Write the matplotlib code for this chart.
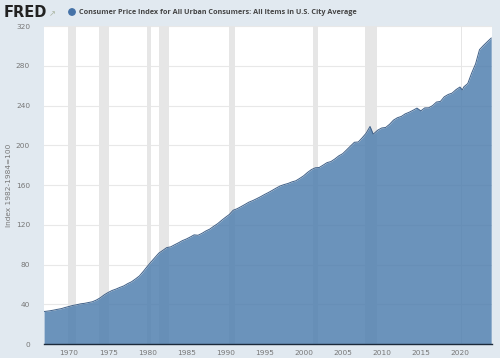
import numpy as np
import matplotlib
matplotlib.use('Agg')
import matplotlib.pyplot as plt

# CPI (index 1982-1984=100), dates as decimal years
dates = [1966.8, 1967.0, 1967.5, 1968.0, 1968.5, 1969.0, 1969.5, 1970.0, 1970.5, 1971.0, 1971.5,
         1972.0, 1972.5, 1973.0, 1973.5, 1974.0, 1974.5, 1975.0, 1975.5, 1976.0, 1976.5,
         1977.0, 1977.5, 1978.0, 1978.5, 1979.0, 1979.5, 1980.0, 1980.5, 1981.0, 1981.5,
         1982.0, 1982.5, 1983.0, 1983.5, 1984.0, 1984.5, 1985.0, 1985.5, 1986.0, 1986.5,
         1987.0, 1987.5, 1988.0, 1988.5, 1989.0, 1989.5, 1990.0, 1990.5, 1991.0, 1991.5,
         1992.0, 1992.5, 1993.0, 1993.5, 1994.0, 1994.5, 1995.0, 1995.5, 1996.0, 1996.5,
         1997.0, 1997.5, 1998.0, 1998.5, 1999.0, 1999.5, 2000.0, 2000.5, 2001.0, 2001.5,
         2002.0, 2002.5, 2003.0, 2003.5, 2004.0, 2004.5, 2005.0, 2005.5, 2006.0, 2006.5,
         2007.0, 2007.5, 2008.0, 2008.5, 2008.9, 2009.0, 2009.5, 2010.0, 2010.5, 2011.0,
         2011.5, 2012.0, 2012.5, 2013.0, 2013.5, 2014.0, 2014.5, 2015.0, 2015.5, 2016.0,
         2016.5, 2017.0, 2017.5, 2018.0, 2018.5, 2019.0, 2019.5, 2020.0, 2020.3, 2020.5,
         2021.0, 2021.5, 2022.0, 2022.5, 2023.0, 2023.5, 2024.0]
cpi = [32.8, 32.9, 33.4, 34.1, 34.9, 35.6, 36.8, 37.8, 38.9, 39.6, 40.5,
       41.0, 41.8, 42.6, 44.3, 46.6, 49.5, 51.9, 53.9, 55.3, 57.0,
       58.5, 60.8, 62.7, 65.5, 68.5, 73.1, 78.0, 82.7, 87.2, 91.6,
       94.3, 97.1, 97.8, 99.9, 101.9, 104.1, 105.7, 107.7, 109.9, 109.5,
       111.4, 113.8, 115.7, 118.5, 121.1, 124.4, 127.5, 130.4, 134.7, 136.2,
       138.3, 140.5, 142.8, 144.4, 146.3, 148.3, 150.5, 152.5, 154.7, 157.0,
       159.1, 160.5, 161.6, 163.2, 164.3, 166.7, 169.3, 172.7, 175.6, 177.4,
       177.7, 180.1, 182.6, 183.7, 186.3, 189.4, 191.6, 195.4, 199.3, 203.1,
       203.4, 207.6, 212.2, 219.0, 211.4, 211.9, 215.4, 217.5, 218.0, 221.2,
       225.4, 227.8, 229.1, 231.7, 233.3, 235.3, 237.5, 234.7, 237.7, 237.8,
       240.0, 243.6, 244.2, 248.9, 251.2, 252.6, 256.1, 258.7, 255.8, 258.9,
       262.2, 272.8, 282.0, 296.3, 300.5, 304.3, 308.0]

# recessions (start, end)
recessions = [(1969.92, 1970.87), (1973.83, 1975.17), (1980.0, 1980.5),
              (1981.5, 1982.83), (1990.5, 1991.17), (2001.17, 2001.83),
              (2007.92, 2009.42), (2020.08, 2020.25)]

year_ticks = [1970, 1975, 1980, 1985, 1990, 1995, 2000, 2005, 2010, 2015, 2020]
y_ticks = [0, 40, 80, 120, 160, 200, 240, 280, 320]

bg = '#e1e9f0'
fig = plt.figure(figsize=(5, 3.58), dpi=100, facecolor=bg)
ax = fig.add_axes([0.088, 0.039, 0.896, 0.888])
ax.set_facecolor('white')

# recession shading sits under the semi-transparent area
for s, e in recessions:
    ax.axvspan(s, e, color='#e6e6e6', lw=0, zorder=1.5)

ax.fill_between(dates, cpi, 0, color='#5180af', alpha=0.85, lw=0, zorder=2)
ax.plot(dates, cpi, color='#3f6088', lw=0.7, zorder=3)

ax.set_xlim(1966.8, 2024.1)
ax.set_ylim(0, 320)
ax.set_yticks(y_ticks)
ax.set_xticks(year_ticks)
ax.grid(axis='y', color='#e8e8e8', lw=0.8, zorder=1)
ax.set_axisbelow(True)
for sp in ['top', 'right', 'left']:
    ax.spines[sp].set_visible(False)
ax.spines['bottom'].set_color('#1c2a3a')
ax.spines['bottom'].set_linewidth(1.0)
ax.spines['bottom'].set_zorder(5)
ax.tick_params(axis='both', length=0, labelsize=5.3, labelcolor='#777777')
ax.tick_params(axis='x', pad=4)
ax.tick_params(axis='y', pad=10)
ax.set_ylabel('Index 1982-1984=100', fontsize=5.3, color='#777777')
ax.yaxis.set_label_coords(-0.071, 0.5)

# header
fig.text(0.008, 0.966, 'FRED', fontsize=10.5, fontweight='bold', color='#222222',
         va='center', ha='left')
fig.text(0.098, 0.962, '\u2197', fontsize=6, color='#aab4a0', va='center', ha='left')
fig.patches.append(plt.Circle((72, 358 - 12), 3.2, color='#4572a7',
                              transform=None, figure=fig))
fig.text(0.158, 0.965, 'Consumer Price Index for All Urban Consumers: All Items in U.S. City Average',
         fontsize=5.25, fontweight='bold', family='Open Sans', color='#444444',
         va='center', ha='left')

fig.savefig('out.png', dpi=100, facecolor=bg)
